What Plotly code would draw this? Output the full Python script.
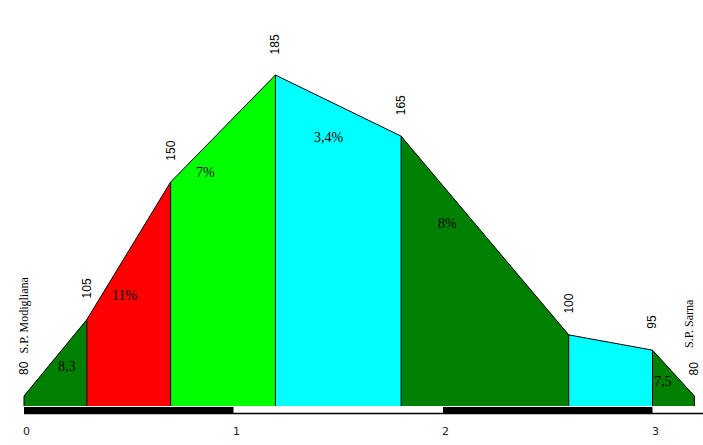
import plotly.graph_objects as go

# ---- data ----
km = [0.0, 0.3, 0.7, 1.2, 1.8, 2.6, 3.0, 3.2]
elev = [80, 105, 150, 185, 165, 100, 95, 80]
seg_colors = ["#008000", "#ff0000", "#00ff00", "#00ffff", "#008000", "#00ffff", "#008000"]
grade_labels = ["8,3", "11%", "7%", "3,4%", "8%", "", "7,5"]
start_name = "S.P. Modigliana"
end_name = "S.P. Sarna"
km_ticks = [0, 1, 2, 3]

# ---- layout constants ----
W, H = 703, 445
px_km = 209.5
px_m = 3.057
x0_px, y80_px = 24, 396
xr = [-x0_px / px_km, (W - x0_px) / px_km]
yr = [80 - (H - y80_px) / px_m, 80 + y80_px / px_m]
base = 80 - 10 / px_m          # bottom of the coloured fill
bar_top = 80 - 11 / px_m
bar_bot = 80 - 17.5 / px_m
# grade label anchor positions (km, m)
grade_pos = [(0.205, 89.8), (0.48, 113.0), (0.865, 153.0), (1.456, 164.7),
             (2.02, 136.3), None, (3.05, 84.9)]

fig = go.Figure()

# coloured segments
for i, c in enumerate(seg_colors):
    xa, xb = km[i], km[i + 1]
    ya, yb = elev[i], elev[i + 1]
    fig.add_trace(go.Scatter(x=[xa, xa, xb, xb, xa], y=[base, ya, yb, base, base],
                             mode="none", fill="toself", fillcolor=c,
                             hoverinfo="skip", showlegend=False))

# vertical separators
vx, vy = [], []
for k, e in zip(km, elev):
    vx += [k, k, None]
    vy += [base, e, None]
fig.add_trace(go.Scatter(x=vx, y=vy, mode="lines", line=dict(color="black", width=1),
                         hoverinfo="skip", showlegend=False))
# profile line
fig.add_trace(go.Scatter(x=km, y=elev, mode="lines", line=dict(color="black", width=1),
                         hoverinfo="skip", showlegend=False))

# scale bar
for t in km_ticks[:-1]:
    if t % 2 == 0:
        fig.add_trace(go.Scatter(x=[t, t, t + 1, t + 1, t], y=[bar_bot, bar_top, bar_top, bar_bot, bar_bot],
                                 mode="none", fill="toself", fillcolor="black",
                                 hoverinfo="skip", showlegend=False))
fig.add_trace(go.Scatter(x=[0, xr[1]], y=[bar_bot, bar_bot], mode="lines",
                         line=dict(color="black", width=1.5), hoverinfo="skip", showlegend=False))

ann = []
# km tick labels
for t in km_ticks:
    ann.append(dict(x=t, y=bar_bot, xref="x", yref="y", text=str(t), showarrow=False,
                    xanchor="left", yanchor="top", yshift=-9, xshift=-3,
                    font=dict(family="DejaVu Sans", size=11, color="#222")))
# elevation labels
for k, e in zip(km, elev):
    ann.append(dict(x=k, y=e, xref="x", yref="y", text=str(e), showarrow=False,
                    textangle=-90, xanchor="center", yanchor="bottom", yshift=19,
                    font=dict(family="Liberation Sans", size=12, color="black")))
# place names
ann.append(dict(x=km[0], y=elev[0], xref="x", yref="y", text=start_name, showarrow=False,
                textangle=-90, xanchor="center", yanchor="bottom", yshift=40, xshift=-1,
                font=dict(family="Liberation Serif", size=12, color="black")))
ann.append(dict(x=km[-1], y=elev[-1], xref="x", yref="y", text=end_name, showarrow=False,
                textangle=-90, xanchor="center", yanchor="bottom", yshift=46, xshift=-6,
                font=dict(family="Liberation Serif", size=12, color="black")))
# grade labels
for lab, pos in zip(grade_labels, grade_pos):
    if lab and pos:
        ann.append(dict(x=pos[0], y=pos[1], xref="x", yref="y", text=lab, showarrow=False,
                        xanchor="center", yanchor="middle",
                        font=dict(family="Liberation Serif", size=14, color="black")))

fig.update_layout(width=W, height=H, margin=dict(l=0, r=0, t=0, b=0),
                  paper_bgcolor="white", plot_bgcolor="white",
                  xaxis=dict(range=xr, visible=False, fixedrange=True),
                  yaxis=dict(range=yr, visible=False, fixedrange=True),
                  annotations=ann, showlegend=False)

fig.write_html("out.html")
